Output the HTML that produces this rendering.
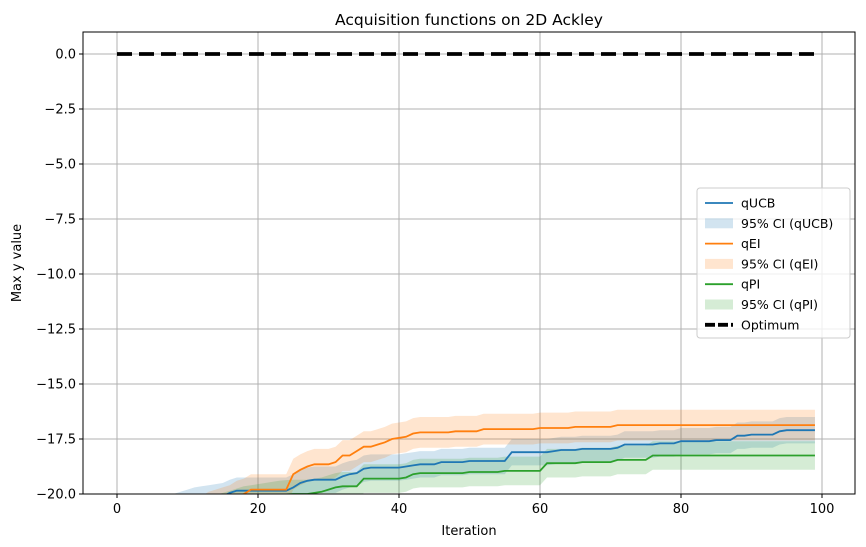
<!DOCTYPE html>
<html><head><meta charset="utf-8"><style>
html,body{margin:0;padding:0;overflow:hidden;background:#fff;font-family:"Liberation Sans","DejaVu Sans",sans-serif}
svg{display:block}
svg text{font-family:"DejaVu Sans","Liberation Sans",sans-serif;fill:#000}
</style></head><body>
<svg id="chart" width="866" height="547" viewBox="0 0 866 547" xmlns="http://www.w3.org/2000/svg">
<defs><clipPath id="clip"><rect x="83" y="32" width="772" height="462"/></clipPath></defs>
<rect x="0" y="0" width="866" height="547" fill="#fff"/>
<g id="grid"></g>
<g id="bands" clip-path="url(#clip)"></g>
<g id="lines" clip-path="url(#clip)"></g>
<rect x="83" y="32" width="772" height="462" fill="none" stroke="#000" stroke-width="1"/>
<g id="axes"></g>
<text x="469" y="25" font-size="15.5" text-anchor="middle">Acquisition functions on 2D Ackley</text>
<text x="469" y="535" font-size="13" text-anchor="middle">Iteration</text>
<text x="21" y="263" font-size="13" text-anchor="middle" transform="rotate(-90 21 263)">Max y value</text>
<g id="legend"></g>
</svg>
<script>
const xTicks=[0,20,40,60,80,100];
const yTicks=[0,-2.5,-5,-7.5,-10,-12.5,-15,-17.5,-20];
const qUCB=[-22,-21.8,-21.6,-21.4,-21.2,-21,-20.8,-20.7,-20.6,-20.5,-20.4,-20.3,-20.25,-20.2,-20.15,-20.1,-19.95,-19.85,-19.85,-19.85,-19.85,-19.85,-19.85,-19.85,-19.85,-19.7,-19.5,-19.4,-19.35,-19.35,-19.35,-19.35,-19.2,-19.1,-19.05,-18.85,-18.8,-18.8,-18.8,-18.8,-18.8,-18.75,-18.7,-18.65,-18.65,-18.65,-18.55,-18.55,-18.55,-18.55,-18.5,-18.5,-18.5,-18.5,-18.5,-18.5,-18.1,-18.1,-18.1,-18.1,-18.1,-18.1,-18.05,-18,-18,-18,-17.95,-17.95,-17.95,-17.95,-17.95,-17.9,-17.75,-17.75,-17.75,-17.75,-17.75,-17.7,-17.7,-17.7,-17.6,-17.6,-17.6,-17.6,-17.6,-17.55,-17.55,-17.55,-17.35,-17.35,-17.3,-17.3,-17.3,-17.3,-17.15,-17.1,-17.1,-17.1,-17.1,-17.1];
const qEI=[-23,-22.8,-22.6,-22.4,-22.2,-22,-21.8,-21.6,-21.4,-21.2,-21,-20.9,-20.8,-20.6,-20.5,-20.4,-20.3,-20.1,-20,-19.8,-19.8,-19.8,-19.8,-19.8,-19.8,-19.1,-18.9,-18.75,-18.65,-18.65,-18.65,-18.55,-18.25,-18.25,-18.05,-17.85,-17.85,-17.75,-17.65,-17.5,-17.45,-17.4,-17.25,-17.2,-17.2,-17.2,-17.2,-17.2,-17.15,-17.15,-17.15,-17.15,-17.05,-17.05,-17.05,-17.05,-17.05,-17.05,-17.05,-17.05,-17,-17,-17,-17,-17,-16.95,-16.95,-16.95,-16.95,-16.95,-16.95,-16.87,-16.87,-16.87,-16.87,-16.87,-16.87,-16.87,-16.87,-16.87,-16.87,-16.87,-16.87,-16.87,-16.87,-16.87,-16.87,-16.87,-16.87,-16.87,-16.87,-16.87,-16.87,-16.87,-16.87,-16.87,-16.87,-16.87,-16.87,-16.87];
const qPI=[-24,-23.7,-23.4,-23.1,-22.8,-22.5,-22.2,-21.9,-21.6,-21.4,-21.2,-21,-20.9,-20.8,-20.7,-20.6,-20.5,-20.4,-20.3,-20.25,-20.2,-20.15,-20.1,-20.05,-20.02,-20,-20,-20,-19.95,-19.9,-19.8,-19.7,-19.65,-19.65,-19.65,-19.3,-19.3,-19.3,-19.3,-19.3,-19.3,-19.25,-19.1,-19.05,-19.05,-19.05,-19.05,-19.05,-19.05,-19.05,-19,-19,-19,-19,-19,-18.95,-18.95,-18.95,-18.95,-18.95,-18.95,-18.6,-18.6,-18.6,-18.6,-18.6,-18.55,-18.55,-18.55,-18.55,-18.55,-18.45,-18.45,-18.45,-18.45,-18.45,-18.25,-18.25,-18.25,-18.25,-18.25,-18.25,-18.25,-18.25,-18.25,-18.25,-18.25,-18.25,-18.25,-18.25,-18.25,-18.25,-18.25,-18.25,-18.25,-18.25,-18.25,-18.25,-18.25,-18.25];
const ciHalf=[0.6,0.7,0.65];
const seriesNames=["qUCB","qEI","qPI"];
const colors=["#1f77b4","#ff7f0e","#2ca02c"];
const optimum=0;

const NS="http://www.w3.org/2000/svg";
const X=v=>117+v*7.05;
const Y=v=>54-v*22;
function mk(t,a,p){const e=document.createElementNS(NS,t);for(const k in a)e.setAttribute(k,a[k]);p.appendChild(e);return e;}
const grid=document.getElementById('grid'),axes=document.getElementById('axes');
xTicks.forEach(t=>{
  const g=mk('line',{x1:X(t),x2:X(t),y1:32,y2:494,stroke:'#b0b0b0','stroke-width':1},grid);
  
  
  mk('line',{x1:X(t),x2:X(t),y1:494,y2:498,stroke:'#000'},axes);
  const l=mk('text',{x:X(t),y:513,'font-size':13,'text-anchor':'middle'},axes);
  l.textContent=t;
  
  
});
yTicks.forEach(t=>{
  const g=mk('line',{x1:83,x2:855,y1:Y(t),y2:Y(t),stroke:'#b0b0b0','stroke-width':1},grid);
  
  
  mk('line',{x1:79,x2:83,y1:Y(t),y2:Y(t),stroke:'#000'},axes);
  const l=mk('text',{x:76,y:Y(t)+4.5,'font-size':13,'text-anchor':'end'},axes);
  l.textContent=t.toFixed(1).replace('-','\u2212');
  
  
});
const bands=document.getElementById('bands'),lines=document.getElementById('lines');
[qUCB,qEI,qPI].forEach((s,k)=>{
  let up=s.map((v,i)=>X(i)+','+Y(v+ciHalf[k]));
  let dn=s.map((v,i)=>X(i)+','+Y(v-ciHalf[k])).reverse();
  const b=mk('polygon',{points:up.concat(dn).join(' '),fill:colors[k],'fill-opacity':0.2,stroke:'none'},bands);
  
  
});
[qUCB,qEI,qPI].forEach((s,k)=>{
  const p=mk('polyline',{points:s.map((v,i)=>X(i)+','+Y(v)).join(' '),fill:'none',stroke:colors[k],'stroke-width':1.8},lines);
  
  
});
const o=mk('line',{x1:X(0),x2:X(99),y1:Y(optimum),y2:Y(optimum),stroke:'#000','stroke-width':3.8,'stroke-dasharray':'15,7'},lines);



const lg=document.getElementById('legend');
mk('rect',{x:697,y:188,width:153,height:150,rx:3,fill:'#fff','fill-opacity':0.8,stroke:'#ccc'},lg);
const entries=[["qUCB",colors[0],'line'],["95% CI (qUCB)",colors[0],'patch'],["qEI",colors[1],'line'],["95% CI (qEI)",colors[1],'patch'],["qPI",colors[2],'line'],["95% CI (qPI)",colors[2],'patch'],["Optimum","#000",'dash']];
entries.forEach((e,i)=>{
  const y=203+i*20.3;
  const g=mk('g',{},lg);
  
  
  if(e[2]==='line')mk('line',{x1:705,x2:733,y1:y,y2:y,stroke:e[1],'stroke-width':1.8},g);
  else if(e[2]==='patch')mk('rect',{x:705,y:y-5,width:28,height:10,fill:e[1],'fill-opacity':0.2},g);
  else mk('line',{x1:705,x2:733,y1:y,y2:y,stroke:'#000','stroke-width':3.8,'stroke-dasharray':'10,3'},g);
  const t=mk('text',{x:741,y:y+4.5,'font-size':12.5},g);
  t.textContent=e[0];
});
</script>
</body></html>
